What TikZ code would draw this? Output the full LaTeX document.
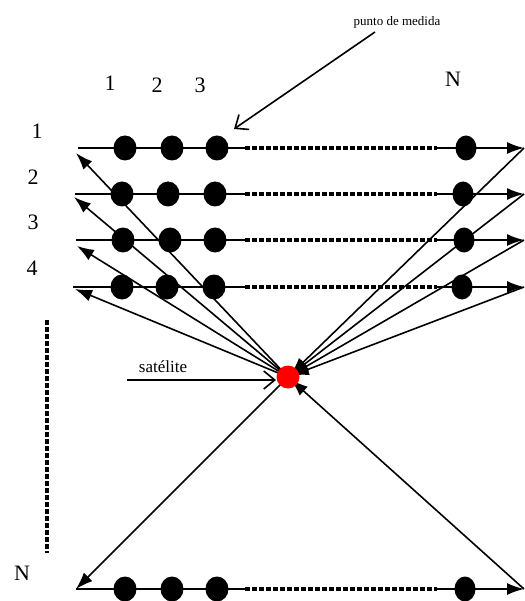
\documentclass[tikz,border=0pt]{standalone}
\usepackage{fontspec}
\setmainfont{Liberation Serif}
\usetikzlibrary{arrows.meta,shapes.geometric}
\tikzset{
  dotnode/.style={ellipse, fill=black, minimum width=23pt, minimum height=25pt, inner sep=0pt},
  satnode/.style={circle, fill=red, minimum size=23pt, inner sep=0pt},
  rowline/.style={line width=1.8pt},
  sqdash/.style={line width=4pt, dash pattern=on 4.5pt off 2.5pt},
  arr/.style={line width=1.6pt, -{Latex[length=17pt,width=12pt]}},
  openarr/.style={line width=1.6pt, -{Straight Barb[length=11pt,width=18pt]}},
  lbl/.style={font=\fontsize{22}{24}\selectfont, inner sep=0pt},
  smalllbl/.style={font=\fontsize{13}{15}\selectfont, inner sep=0pt},
  midlbl/.style={font=\fontsize{17}{19}\selectfont, inner sep=0pt}
}
\begin{document}
\begin{tikzpicture}[x=1pt,y=-1pt]
\useasboundingbox (0,0) rectangle (524,601);
% column and row labels
\node[lbl] (c1) at (110,83) {1};
\node[lbl] (c2) at (157,85) {2};
\node[lbl] (c3) at (200,85) {3};
\node[lbl] (cN) at (453,79) {N};
\node[lbl] (r1) at (37,131) {1};
\node[lbl] (r2) at (33,177) {2};
\node[lbl] (r3) at (33,222) {3};
\node[lbl] (r4) at (32,268) {4};
\node[lbl] (rN) at (22,573) {N};
% satellite centre
\coordinate (satc) at (288,377);
% rows: y, left x, dot xs, right dot x
\foreach \r/\y/\lx/\ax/\bx/\cx/\nx in {1/148/78/125/172/217/466, 2/194/75/122/168/215/463, 3/240/76/123/170/215/464, 4/287/73/122/167/214/462, 5/589/76/125/172/217/465}{
  \coordinate (L\r) at (\lx,\y);
  \coordinate (D\r) at (245,\y);
  \coordinate (E\r) at (437,\y);
  \coordinate (R\r) at (524,\y);
  \draw[rowline] (L\r) -- (D\r);
  \draw[sqdash] (D\r) -- (E\r);
  \draw[rowline,arr] (E\r) -- (R\r);
  \node[dotnode] (a\r) at (\ax,\y) {};
  \node[dotnode] (b\r) at (\bx,\y) {};
  \node[dotnode] (c\r) at (\cx,\y) {};
  \node[dotnode, minimum width=21pt] (n\r) at (\nx,\y) {};
}
% diagonals
\coordinate (T1) at (76,153);
\coordinate (T2) at (74,197);
\coordinate (T3) at (77,246);
\coordinate (T4) at (75,289);
\foreach \r in {1,2,3,4}{
  \draw[arr] (satc) -- (T\r);
  \draw[arr, shorten >=4pt] (R\r) -- (satc);
}
\draw[arr] (satc) -- (L5);
\draw[arr, shorten >=4pt] (R5) -- (satc);
% satellite on top
\node[satnode] (sat) at (satc) {};
% vertical dotted line
\coordinate (V1) at (47,320);
\coordinate (V2) at (47,553);
\draw[sqdash] (V1) -- (V2);
% satellite label
\node[midlbl] (satl) at (163,367) {satélite};
\coordinate (S1) at (127,380);
\coordinate (S2) at (276,380);
\draw[openarr] (S1) -- (S2);
% measurement point label
\node[smalllbl] (pm) at (397,22) {punto de medida};
\coordinate (P1) at (375,32);
\coordinate (P2) at (234,129);
\draw[openarr] (P1) -- (P2);
\end{tikzpicture}
\end{document}
